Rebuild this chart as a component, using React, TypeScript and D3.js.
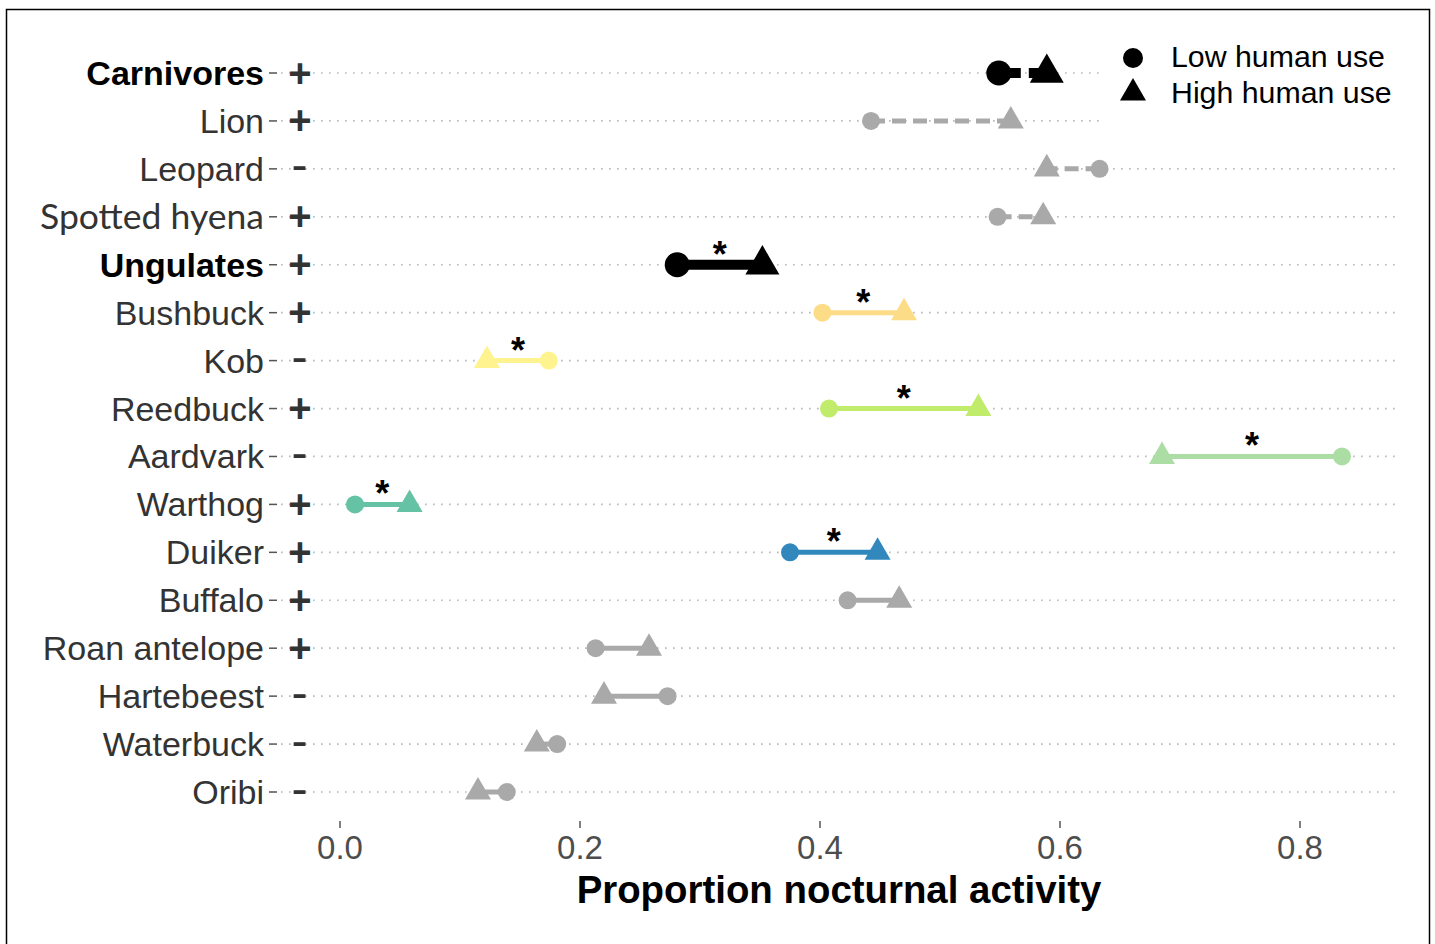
import React from "react";
import * as d3 from "d3";

// rows top to bottom
const species = [
  "Carnivores", "Lion", "Leopard", "Spotted hyena", "Ungulates", "Bushbuck", "Kob", "Reedbuck",
  "Aardvark", "Warthog", "Duiker", "Buffalo", "Roan antelope", "Hartebeest", "Waterbuck", "Oribi",
];
const lowUse = [0.549, 0.4425, 0.633, 0.548, 0.281, 0.402, 0.174, 0.4075, 0.835, 0.0125, 0.375, 0.423, 0.213, 0.273, 0.181, 0.139];
const highUse = [0.589, 0.559, 0.589, 0.586, 0.352, 0.47, 0.1225, 0.532, 0.685, 0.058, 0.448, 0.466, 0.2575, 0.22, 0.164, 0.115];
const signs = ["+", "+", "-", "+", "+", "+", "-", "+", "-", "+", "+", "+", "+", "-", "-", "-"];
const significant = [false, false, false, false, true, true, true, true, true, true, true, false, false, false, false, false];
const isGroup = [true, false, false, false, true, false, false, false, false, false, false, false, false, false, false, false];
const dashed = [true, true, true, true, false, false, false, false, false, false, false, false, false, false, false, false];
const colors = [
  "#000000", "#a9a9a9", "#a9a9a9", "#a9a9a9", "#000000", "#fddc87", "#fff38f", "#c0eb6b",
  "#abdda4", "#66c2a5", "#3288bd", "#a9a9a9", "#a9a9a9", "#a9a9a9", "#a9a9a9", "#a9a9a9",
];
const xTicks = [0, 0.2, 0.4, 0.6, 0.8];

const W = 1435;
const H = 944;

export default function App() {
  const x = d3.scaleLinear().domain([0, 0.8]).range([340, 1300]);
  const y = d3.scalePoint<string>().domain(species).range([73, 792]);
  const panelLeft = 281;
  const panelRight = 1400;
  const panelBottom = 821;

  const tri = (size: number) => d3.symbol().type(d3.symbolTriangle).size(size)()!;
  const fontArial = "'Liberation Sans', Arial, sans-serif";

  return (
    <svg width={W} height={H} style={{ position: "absolute", left: 0, top: 0, background: "#fff" }}>
      <rect x={6.5} y={9.5} width={1423} height={1000} fill="none" stroke="#000" strokeWidth={1.5} />

      {/* dotted row guides */}
      {species.map((s) => (
        <line key={"g" + s} x1={panelLeft} x2={panelRight} y1={y(s)} y2={y(s)}
          stroke="#bbbbbb" strokeWidth={1.7} strokeDasharray="1.7 6.3" />
      ))}

      {/* y axis labels, ticks and signs */}
      {species.map((s, i) => (
        <g key={"l" + s}>
          <text x={264} y={y(s)! + 12} textAnchor="end" fontSize={34}
            fontFamily={s === "Spotted hyena" ? "Lato, 'Open Sans', sans-serif" : fontArial}
            fontWeight={isGroup[i] ? "bold" : "normal"} fill={isGroup[i] ? "#000" : "#333"}
            {...(s === "Spotted hyena" ? { textLength: 224, lengthAdjust: "spacingAndGlyphs" } : {})}>
            {s}
          </text>
          <line x1={269} x2={277} y1={y(s)} y2={y(s)} stroke="#555" strokeWidth={1.5} />
          {signs[i] === "+" ? (
            <text x={300} y={y(s)! + 13.5} textAnchor="middle" fontSize={40} fontWeight="bold"
              fontFamily={fontArial} fill="#333">+</text>
          ) : (
            <text x={299.5} y={y(s)! + 12.5} textAnchor="middle" fontSize={48}
              fontFamily={fontArial} fill="#333">-</text>
          )}
        </g>
      ))}

      {/* x axis */}
      {xTicks.map((t) => (
        <g key={"t" + t}>
          <line x1={x(t)} x2={x(t)} y1={panelBottom} y2={panelBottom + 7} stroke="#555" strokeWidth={1.5} />
          <text x={x(t)} y={859} textAnchor="middle" fontSize={33} fontFamily={fontArial} fill="#4d4d4d">
            {d3.format(".1f")(t)}
          </text>
        </g>
      ))}
      <text x={839} y={903} textAnchor="middle" fontSize={38.4} fontWeight="bold"
        fontFamily={fontArial} fill="#000">Proportion nocturnal activity</text>

      {/* legend background */}
      <rect x={1100} y={38} width={300} height={108} fill="#fff" />

      {/* segments and points */}
      {species.map((s, i) => {
        const cy = y(s)!;
        const big = isGroup[i];
        const lw = big ? 10 : 5;
        const x1 = x(lowUse[i]);
        const x2 = x(highUse[i]);
        return (
          <g key={"m" + s}>
            <line x1={x1} x2={x2} y1={cy} y2={cy} stroke={colors[i]} strokeWidth={lw}
              strokeDasharray={dashed[i] ? (big ? "22 8" : "14 7") : undefined} />
            <circle cx={x1} cy={cy} r={big ? 12.5 : 9} fill={colors[i]} />
            <path d={tri(big ? 500 : 293)} transform={`translate(${x2},${cy})`} fill={colors[i]} />
            {significant[i] && (
              <text x={(x1 + x2) / 2} y={cy + 2} textAnchor="middle" fontSize={36} fontWeight="bold"
                fontFamily={fontArial} fill="#000">*</text>
            )}
          </g>
        );
      })}

      {/* legend */}
      <circle cx={1133} cy={58} r={10} fill="#000" />
      <path d={tri(293)} transform="translate(1133,93)" fill="#000" />
      <text x={1171} y={67} fontSize={30.3} fontFamily={fontArial} fill="#000">Low human use</text>
      <text x={1171} y={103} fontSize={30.3} fontFamily={fontArial} fill="#000">High human use</text>
    </svg>
  );
}
